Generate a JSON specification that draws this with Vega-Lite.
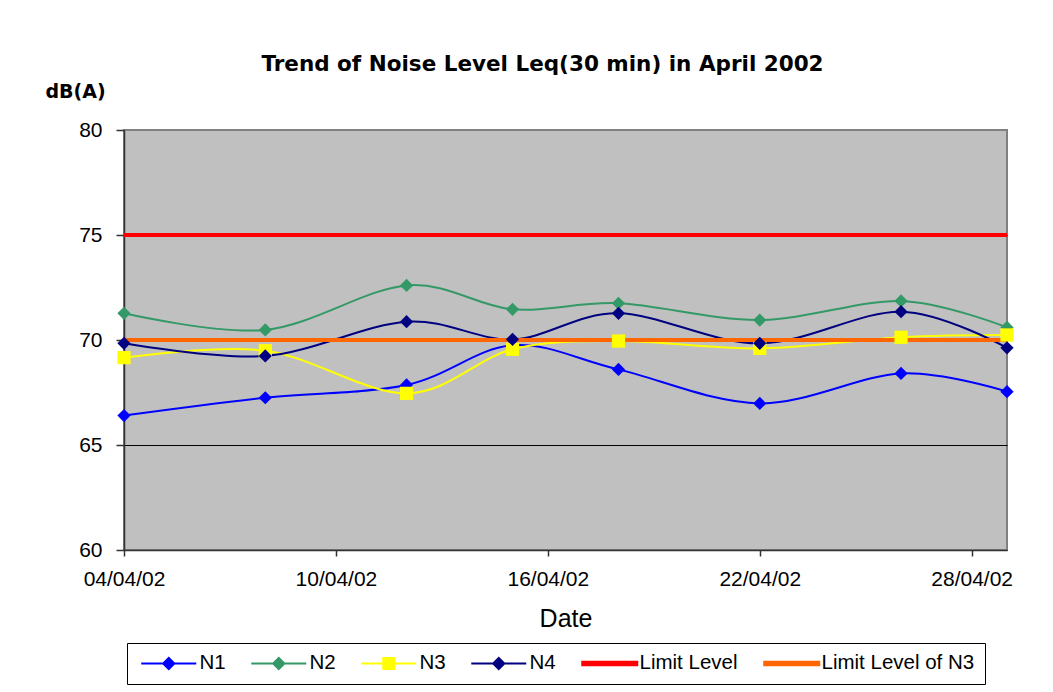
{
  "$schema": "https://vega.github.io/schema/vega-lite/v6.json",
  "width": 883,
  "height": 420,
  "autosize": {"type": "none"},
  "padding": {"left": 124, "top": 130, "right": 46, "bottom": 142},
  "background": "white",
  "view": {"fill": "#C0C0C0", "fillOpacity": 1, "stroke": "#808080", "strokeWidth": 2},
  "config": {
    "font": "Liberation Sans",
    "axis": {
      "labelFont": "Liberation Sans",
      "titleFont": "Liberation Sans",
      "labelColor": "black",
      "titleColor": "black",
      "domainColor": "#333333",
      "tickColor": "#333333",
      "domainWidth": 1.5,
      "tickWidth": 1.5,
      "labelFlush": false,
      "labelOverlap": false
    },
    "legend": {
      "title": null,
      "orient": "none",
      "legendX": 3,
      "legendY": 513,
      "direction": "horizontal",
      "columns": 6,
      "symbolSize": 100,
      "symbolStrokeWidth": 1.5,
      "labelFont": "Liberation Sans",
      "labelFontSize": 20.5,
      "labelColor": "black",
      "labelOffset": 42,
      "labelLimit": 0,
      "columnPadding": 21,
      "padding": 10,
      "strokeColor": "black",
      "fillColor": "white"
    }
  },
  "title": {
    "text": "Trend of Noise Level Leq(30 min) in April 2002",
    "font": "DejaVu Sans",
    "fontSize": 21.5,
    "fontWeight": "bold",
    "color": "black",
    "frame": "group",
    "anchor": "middle",
    "dx": -23,
    "offset": 7
  },
  "datasets": {
    "noise": [
      {"date": "2002/04/04", "series": "N1", "value": 66.40},
      {"date": "2002/04/08", "series": "N1", "value": 67.25},
      {"date": "2002/04/12", "series": "N1", "value": 67.86},
      {"date": "2002/04/15", "series": "N1", "value": 69.75},
      {"date": "2002/04/18", "series": "N1", "value": 68.60},
      {"date": "2002/04/22", "series": "N1", "value": 66.98},
      {"date": "2002/04/26", "series": "N1", "value": 68.41},
      {"date": "2002/04/29", "series": "N1", "value": 67.54},
      {"date": "2002/04/04", "series": "N2", "value": 71.27},
      {"date": "2002/04/08", "series": "N2", "value": 70.48},
      {"date": "2002/04/12", "series": "N2", "value": 72.60},
      {"date": "2002/04/15", "series": "N2", "value": 71.46},
      {"date": "2002/04/18", "series": "N2", "value": 71.75},
      {"date": "2002/04/22", "series": "N2", "value": 70.95},
      {"date": "2002/04/26", "series": "N2", "value": 71.86},
      {"date": "2002/04/29", "series": "N2", "value": 70.60},
      {"date": "2002/04/04", "series": "N3", "value": 69.16},
      {"date": "2002/04/08", "series": "N3", "value": 69.49},
      {"date": "2002/04/12", "series": "N3", "value": 67.46},
      {"date": "2002/04/15", "series": "N3", "value": 69.56},
      {"date": "2002/04/18", "series": "N3", "value": 69.95},
      {"date": "2002/04/22", "series": "N3", "value": 69.60},
      {"date": "2002/04/26", "series": "N3", "value": 70.13},
      {"date": "2002/04/29", "series": "N3", "value": 70.24},
      {"date": "2002/04/04", "series": "N4", "value": 69.84},
      {"date": "2002/04/08", "series": "N4", "value": 69.24},
      {"date": "2002/04/12", "series": "N4", "value": 70.87},
      {"date": "2002/04/15", "series": "N4", "value": 70.03},
      {"date": "2002/04/18", "series": "N4", "value": 71.27},
      {"date": "2002/04/22", "series": "N4", "value": 69.84},
      {"date": "2002/04/26", "series": "N4", "value": 71.35},
      {"date": "2002/04/29", "series": "N4", "value": 69.63}
    ],
    "limits": [
      {"series": "Limit Level", "value": 75},
      {"series": "Limit Level of N3", "value": 70}
    ],
    "legend": [
      {"series": "N1"},
      {"series": "N2"},
      {"series": "N3"},
      {"series": "N4"},
      {"series": "Limit Level"},
      {"series": "Limit Level of N3"}
    ]
  },
  "resolve": {"scale": {"shape": "independent", "color": "independent"}},
  "layer": [
    {
      "data": {"name": "noise"},
      "mark": {"type": "line", "interpolate": "cardinal", "strokeWidth": 2},
      "encoding": {
        "x": {
          "field": "date",
          "type": "temporal",
          "scale": {
            "domain": [{"year": 2002, "month": 4, "date": 4}, {"year": 2002, "month": 4, "date": 29}],
            "nice": false
          },
          "axis": {
            "values": [
              {"year": 2002, "month": 4, "date": 4},
              {"year": 2002, "month": 4, "date": 10},
              {"year": 2002, "month": 4, "date": 16},
              {"year": 2002, "month": 4, "date": 22},
              {"year": 2002, "month": 4, "date": 28}
            ],
            "format": "%d/%m/%y",
            "title": "Date",
            "labelFontSize": 21,
            "titleFontSize": 25,
            "titleFontWeight": "normal",
            "tickSize": 6,
            "labelPadding": 12,
            "titlePadding": 17,
            "grid": false
          }
        },
        "y": {
          "field": "value",
          "type": "quantitative",
          "scale": {"domain": [60, 80], "nice": false, "zero": false},
          "axis": {
            "values": [60, 65, 70, 75, 80],
            "title": "dB(A)",
            "titleAngle": 0,
            "titleAlign": "left",
            "titleBaseline": "alphabetic",
            "titleX": -79,
            "titleY": -33,
            "titleFont": "DejaVu Sans",
            "titleFontSize": 19,
            "titleFontWeight": "bold",
            "labelFontSize": 21,
            "labelPadding": 14,
            "tickSize": 8,
            "grid": true,
            "gridColor": {"condition": {"test": "datum.value === 80", "value": "#808080"}, "value": "black"},
            "gridWidth": 1
          }
        },
        "color": {
          "field": "series",
          "type": "nominal",
          "scale": {
            "domain": ["N1", "N2", "N3", "N4"],
            "range": ["#0000FF", "#339966", "#FFFF00", "#000080"]
          },
          "legend": null
        }
      }
    },
    {
      "data": {"name": "limits"},
      "mark": {"type": "rule", "strokeWidth": 4},
      "encoding": {
        "y": {"field": "value", "type": "quantitative"},
        "color": {
          "field": "series",
          "type": "nominal",
          "scale": {"domain": ["Limit Level", "Limit Level of N3"], "range": ["#FF0000", "#FF6600"]},
          "legend": null
        }
      }
    },
    {
      "data": {"name": "noise"},
      "mark": {"type": "point", "filled": true, "opacity": 1, "size": 175},
      "encoding": {
        "x": {"field": "date", "type": "temporal"},
        "y": {"field": "value", "type": "quantitative"},
        "color": {
          "field": "series",
          "type": "nominal",
          "scale": {
            "domain": ["N1", "N2", "N3", "N4"],
            "range": ["#0000FF", "#339966", "#FFFF00", "#000080"]
          },
          "legend": null
        },
        "shape": {
          "field": "series",
          "type": "nominal",
          "scale": {"domain": ["N1", "N2", "N3", "N4"], "range": ["diamond", "diamond", "square", "diamond"]},
          "legend": null
        }
      }
    },
    {
      "data": {"name": "legend"},
      "transform": [{"filter": "false"}],
      "mark": {"type": "point", "filled": true, "opacity": 1, "size": 100},
      "encoding": {
        "color": {
          "field": "series",
          "type": "nominal",
          "title": null,
          "scale": {
            "domain": ["N1", "N2", "N3", "N4", "Limit Level", "Limit Level of N3"],
            "range": ["#0000FF", "#339966", "#FFFF00", "#000080", "#FF0000", "#FF6600"]
          },
          "legend": {"orient": "none", "legendX": 3, "legendY": 513, "direction": "horizontal", "columns": 6}
        },
        "shape": {
          "field": "series",
          "type": "nominal",
          "title": null,
          "scale": {
            "domain": ["N1", "N2", "N3", "N4", "Limit Level", "Limit Level of N3"],
            "range": [
              "M-1.2,-0.2H9.8V0.2H-1.2ZM4.3,-1.4L5.7,0L4.3,1.4L2.9,0Z",
              "M-1.2,-0.2H9.8V0.2H-1.2ZM4.3,-1.4L5.7,0L4.3,1.4L2.9,0Z",
              "M-1.2,-0.2H9.8V0.2H-1.2ZM3,-1.3H5.6V1.3H3Z",
              "M-1.2,-0.2H9.8V0.2H-1.2ZM4.3,-1.4L5.7,0L4.3,1.4L2.9,0Z",
              "M-1.2,-0.55H10.2V0.55H-1.2Z",
              "M-1.2,-0.55H10.2V0.55H-1.2Z"
            ]
          },
          "legend": {"orient": "none", "legendX": 3, "legendY": 513, "direction": "horizontal", "columns": 6}
        }
      }
    }
  ]
}
